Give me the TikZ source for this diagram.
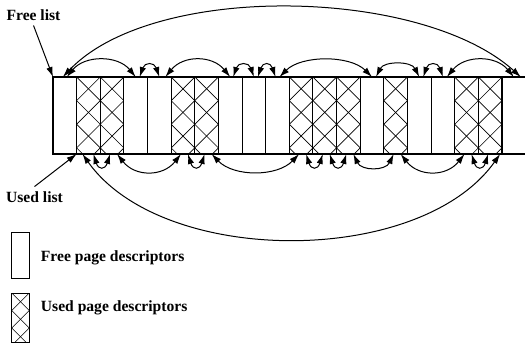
\documentclass[tikz,border=0pt]{standalone}
\usepackage{fontspec}
\setmainfont{Liberation Serif}
\usetikzlibrary{arrows.meta,calc}
\tikzset{every picture/.style={line width=0.75pt}}
\tikzset{
  freecell/.style={draw, line width=0.8pt, rectangle, minimum width=17.72pt, minimum height=57.75pt, inner sep=0pt, outer sep=0pt},
  opencell/.style={rectangle, minimum width=17.72pt, minimum height=57.75pt, inner sep=0pt, outer sep=0pt},
  legendbox/.style={draw, line width=0.75pt, rectangle, minimum width=13.1pt, inner sep=0pt, outer sep=0pt},
  hatch/.style={line width=0.5pt},
  lbl/.style={font=\fontsize{11.7}{14}\selectfont\bfseries}
}

\begin{document}
\begin{tikzpicture}[x=0.75pt,y=0.75pt,yscale=-1,xscale=1,>={Latex[length=7.5pt,width=4.8pt]}]
\useasboundingbox (0,0) rectangle (525,343);

%Shape: page descriptors
\foreach \i in {0,1,2,3,4,5,6,7,8,9,10,11,12,13,14,15,16,17,18}
  \node [freecell] (c\i) at ({53+23.63*(\i+0.5)},115.5) {};
\node [opencell] (c19) at ({53+23.63*19.5},115.5) {};
\draw [line width=0.8pt] (c19.north west) -- (c19.north east) ;
\draw [line width=0.8pt] (c19.south west) -- (c19.south east) ;

%Shape: used descriptors, cross hatched
\foreach \i in {1,2,5,6,10,11,12,14,17,18} {
  \begin{scope}
    \clip (c\i.north west) rectangle (c\i.south east);
    \foreach \k in {0,1,2,3} {
      \draw [hatch] (c\i.north west) ++(0,\k*23.63) -- ++(23.63,23.63) ;
      \draw [hatch] (c\i.north east) ++(0,\k*23.63) -- ++(-23.63,23.63) ;
    }
  \end{scope}
}

%Curve Lines: free list
\draw [<->] ($(c0.north)+(-2,0)$) .. controls +(90,-95) and +(-100,-90) .. ($(c19.north)+(7,0)$) ;
\draw [<->] ($(c0.north)+(2,0)$) .. controls +(18,-22) and +(-18,-22) .. (c3.north) ;
\draw [<->] ($(c3.north)+(4,0)$) .. controls +(5,-15) and +(-5,-15) .. (c4.north) ;
\draw [<->] ($(c4.north)+(6,0)$) .. controls +(18,-22) and +(-18,-22) .. (c7.north) ;
\draw [<->] ($(c7.north)+(3,0)$) .. controls +(5,-15) and +(-5,-15) .. (c8.north) ;
\draw [<->] ($(c8.north)+(4,0)$) .. controls +(5,-15) and +(-5,-15) .. ($(c9.north)+(-2,0)$) ;
\draw [<->] ($(c9.north)+(2,0)$) .. controls +(22,-22) and +(-22,-22) .. (c13.north) ;
\draw [<->] ($(c13.north)+(4,0)$) .. controls +(8,-16) and +(-8,-16) .. (c15.north) ;
\draw [<->] ($(c15.north)+(4,0)$) .. controls +(5,-15) and +(-5,-15) .. (c16.north) ;
\draw [<->] ($(c16.north)+(4,0)$) .. controls +(18,-22) and +(-18,-22) .. (c19.north) ;

%Curve Lines: used list
\draw [<->] ($(c1.south)+(-6,0)$) .. controls +(80,113) and +(-80,113) .. ($(c18.south)+(10,0)$) ;
\draw [<->] ($(c1.south)+(5,0)$) .. controls +(5,16) and +(-5,16) .. ($(c2.south)+(-2,0)$) ;
\draw [<->] ($(c2.south)+(5,0)$) .. controls +(18,23) and +(-18,23) .. ($(c5.south)+(-2,0)$) ;
\draw [<->] ($(c5.south)+(5,0)$) .. controls +(5,16) and +(-5,16) .. ($(c6.south)+(-2,0)$) ;
\draw [<->] ($(c6.south)+(5,0)$) .. controls +(22,23) and +(-22,23) .. ($(c10.south)+(-2,0)$) ;
\draw [<->] ($(c10.south)+(5,0)$) .. controls +(5,16) and +(-5,16) .. ($(c11.south)+(-2,0)$) ;
\draw [<->] ($(c11.south)+(5,0)$) .. controls +(5,16) and +(-5,16) .. ($(c12.south)+(-2,0)$) ;
\draw [<->] ($(c12.south)+(5,0)$) .. controls +(8,17) and +(-8,17) .. ($(c14.south)+(-2,0)$) ;
\draw [<->] ($(c14.south)+(5,0)$) .. controls +(18,23) and +(-18,23) .. ($(c17.south)+(-2,0)$) ;
\draw [<->] ($(c17.south)+(5,0)$) .. controls +(5,16) and +(-5,16) .. ($(c18.south)+(-2,0)$) ;

% Text Node
\node [lbl] (freelbl) at (33.5,15) {Free list};
% Text Node
\node [lbl] (usedlbl) at (34.5,197) {Used list};
\draw [->] (freelbl.south) -- (c0.north west) ;
\draw [->] (usedlbl.north) -- (c1.south west) ;

%Shape: legend
\node [legendbox, minimum height=34.5pt] (freekey) at (20.5,255) {};
\node [legendbox, minimum height=36.75pt] (usedkey) at (20.5,317.5) {};
\begin{scope}
  \clip (usedkey.north west) rectangle (usedkey.south east);
  \foreach \k in {0,1,2,3} {
    \draw [hatch] (usedkey.north west) ++(0,\k*17.5) -- ++(17.5,17.5) ;
    \draw [hatch] (usedkey.north east) ++(0,\k*17.5) -- ++(-17.5,17.5) ;
  }
\end{scope}
% Text Node
\node [lbl, anchor=west] (freetxt) at (36,258) {Free page descriptors};
% Text Node
\node [lbl, anchor=west] (usedtxt) at (36,308) {Used page descriptors};
\end{tikzpicture}
\end{document}
